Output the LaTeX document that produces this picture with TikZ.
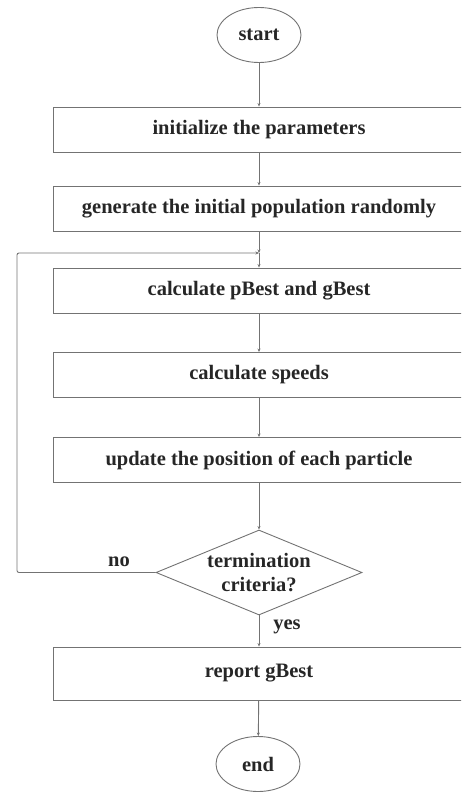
\documentclass[tikz,border=0pt]{standalone}
\usepackage{fontspec}
\setmainfont{Liberation Serif}
\usetikzlibrary{shapes.geometric,arrows.meta}
\begin{document}
\begin{tikzpicture}[x=1pt,y=-1pt,
  line/.style={draw=black!55, line width=0.9pt},
  arr/.style={line, -{Stealth[length=3.5pt,width=3pt]}},
  txt/.style={font=\bfseries\fontsize{20.5}{24}\selectfont, text=black!85},
  procbox/.style={line, txt, rectangle, minimum width=412pt, minimum height=45pt, inner sep=0pt},
  term/.style={line, txt, ellipse, minimum width=84pt, minimum height=55pt, inner sep=0pt},
  decide/.style={line, txt, diamond, aspect=2.42, minimum width=206pt, minimum height=85pt, inner sep=0pt, align=center},
  lbl/.style={txt}]
\useasboundingbox (0,0) rectangle (461,792);
\clip (0,0) rectangle (461,792);
\node[term] (start) at (259,35) {start};
\node[procbox] (init) at (259,129.5) {initialize the parameters};
\node[procbox] (gen) at (259,208.5) {generate the initial population randomly};
\coordinate (join) at (259,253);
\node[procbox] (calc) at (259,290.5) {calculate pBest and gBest};
\node[procbox] (speed) at (259,375) {calculate speeds};
\node[procbox] (upd) at (259,460) {update the position of each particle};
\node[decide] (crit) at (259,572.5) {termination\\criteria?};
\node[procbox, minimum height=53pt] (rep) at (259,673.5) {report gBest};
\node[term] (end) at (258,764) {end};
\coordinate (lb) at (17,572.5);
\coordinate (lt) at (17,253);
\draw[arr] (start) -- (init);
\draw[arr] (init) -- (gen);
\draw[arr] (gen) -- (join);
\draw[arr] (join) -- (calc);
\draw[arr] (calc) -- (speed);
\draw[arr] (speed) -- (upd);
\draw[arr] (upd) -- (crit);
\draw[arr] (crit) -- (rep);
\draw[arr] (rep) -- (end);
\draw[arr, rounded corners=2pt] (crit.west) -- (lb) -- (lt) -- (join);
\node[lbl] (no) at (119,562) {no};
\node[lbl] (yes) at (287,627) {yes};
\end{tikzpicture}
\end{document}
